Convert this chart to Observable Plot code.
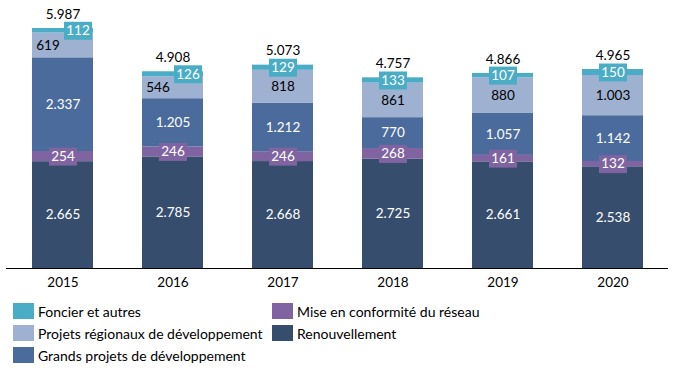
<!DOCTYPE html>
<html>
<head>
<meta charset="utf-8">
<script src="https://cdn.jsdelivr.net/npm/d3@7"></script>
<script src="https://cdn.jsdelivr.net/npm/@observablehq/plot@0.6"></script>
<style>
  body { margin: 0; background: #fff; font-family: Lato, "Open Sans", sans-serif; }
  #chart svg { display: block; }
  .legend { display: grid; grid-template-columns: 259px auto; row-gap: 6px; padding: 8px 0 0 13px; font-size: 14px; color: #000; }
  .legend .item { display: flex; align-items: center; height: 16px; }
  .legend .sw { width: 21px; height: 16px; margin-right: 4px; flex: none; }
</style>
</head>
<body>
<div id="chart"></div>
<script>
const years = ["2015", "2016", "2017", "2018", "2019", "2020"];
const renouvellement = [2665, 2785, 2668, 2725, 2661, 2538];
const miseEnConformite = [254, 246, 246, 268, 161, 132];
const grandsProjets = [2337, 1205, 1212, 770, 1057, 1142];
const projetsRegionaux = [619, 546, 818, 861, 880, 1003];
const foncier = [112, 126, 129, 133, 107, 150];
const totals = [5987, 4908, 5073, 4757, 4866, 4965];

const seriesNames = ["Renouvellement", "Mise en conformité du réseau", "Grands projets de développement", "Projets régionaux de développement", "Foncier et autres"];
const seriesValues = [renouvellement, miseEnConformite, grandsProjets, projetsRegionaux, foncier];
const seriesColors = ["#374d6e", "#8064a2", "#4a6b9b", "#9fb1d0", "#4bacc6"];
const labelColors = ["#fff", "#fff", "#fff", "#000", "#fff"];

const fmt = d3.formatLocale({decimal: ",", thousands: ".", grouping: [3], currency: ["", ""]}).format(",");

// Build stacked rows
const rows = [];
years.forEach((year, i) => {
  let base = 0;
  seriesNames.forEach((name, s) => {
    const v = seriesValues[s][i];
    rows.push({year, series: name, s, value: v, y1: base, y2: base + v, mid: base + v / 2});
    base += v;
  });
});
const totalRows = years.map((year, i) => ({year, total: totals[i]}));

const boxed = rows.filter(d => d.s === 1 || d.s === 4);
const shifted = d => d.s >= 3 && (d.year === "2015" || d.year === "2016");

const boxSymbol = {draw(context) { context.rect(-14, -9, 28, 18); }};
const fs = 13.5;

const plot = Plot.plot({
  width: 679,
  height: 295,
  marginLeft: 6,
  marginRight: 11,
  marginTop: 27.5,
  marginBottom: 27,
  style: {fontFamily: "Lato, 'Open Sans', sans-serif", fontSize: "13px", background: "#fff"},
  x: {domain: years, paddingInner: 0.447, paddingOuter: 0.2235, label: null},
  y: {domain: [0, 6000], axis: null},
  color: {domain: seriesNames, range: seriesColors},
  marks: [
    Plot.rectY(rows, {x: "year", y1: "y1", y2: "y2", fill: "series"}),
    Plot.ruleY([0], {stroke: "#000", strokeWidth: 1.2}),
    Plot.axisX({tickSize: 0, tickPadding: 9, fontSize: fs, label: null, color: "#000"}),
    Plot.dot(boxed.filter(d => !shifted(d)), {x: "year", y: "mid", symbol: boxSymbol, fill: "series", stroke: null}),
    Plot.dot(boxed.filter(shifted), {x: "year", y: "mid", symbol: boxSymbol, fill: "series", stroke: null, dx: 15}),
    Plot.text(rows.filter(d => !shifted(d)), {x: "year", y: "mid", text: d => fmt(d.value), fill: d => labelColors[d.s], fontSize: fs}),
    Plot.text(rows.filter(d => shifted(d) && d.s === 4), {x: "year", y: "mid", text: d => fmt(d.value), fill: d => labelColors[d.s], fontSize: fs, dx: 15}),
    Plot.text(rows.filter(d => shifted(d) && d.s === 3), {x: "year", y: "mid", text: d => fmt(d.value), fill: d => labelColors[d.s], fontSize: fs, dx: -15}),
    Plot.text(totalRows, {x: "year", y: "total", text: d => fmt(d.total), fill: "#000", fontSize: fs, dy: -14})
  ]
});
document.getElementById("chart").appendChild(plot);

// Legend (HTML below the SVG)
const legendOrder = [4, 1, 3, 0, 2];
const legend = document.createElement("div");
legend.className = "legend";
legendOrder.forEach(s => {
  const item = document.createElement("div");
  item.className = "item";
  const sw = document.createElement("span");
  sw.className = "sw";
  sw.style.background = seriesColors[s];
  const label = document.createElement("span");
  label.textContent = seriesNames[s];
  item.appendChild(sw);
  item.appendChild(label);
  legend.appendChild(item);
});
document.getElementById("chart").appendChild(legend);
</script>
</body>
</html>
